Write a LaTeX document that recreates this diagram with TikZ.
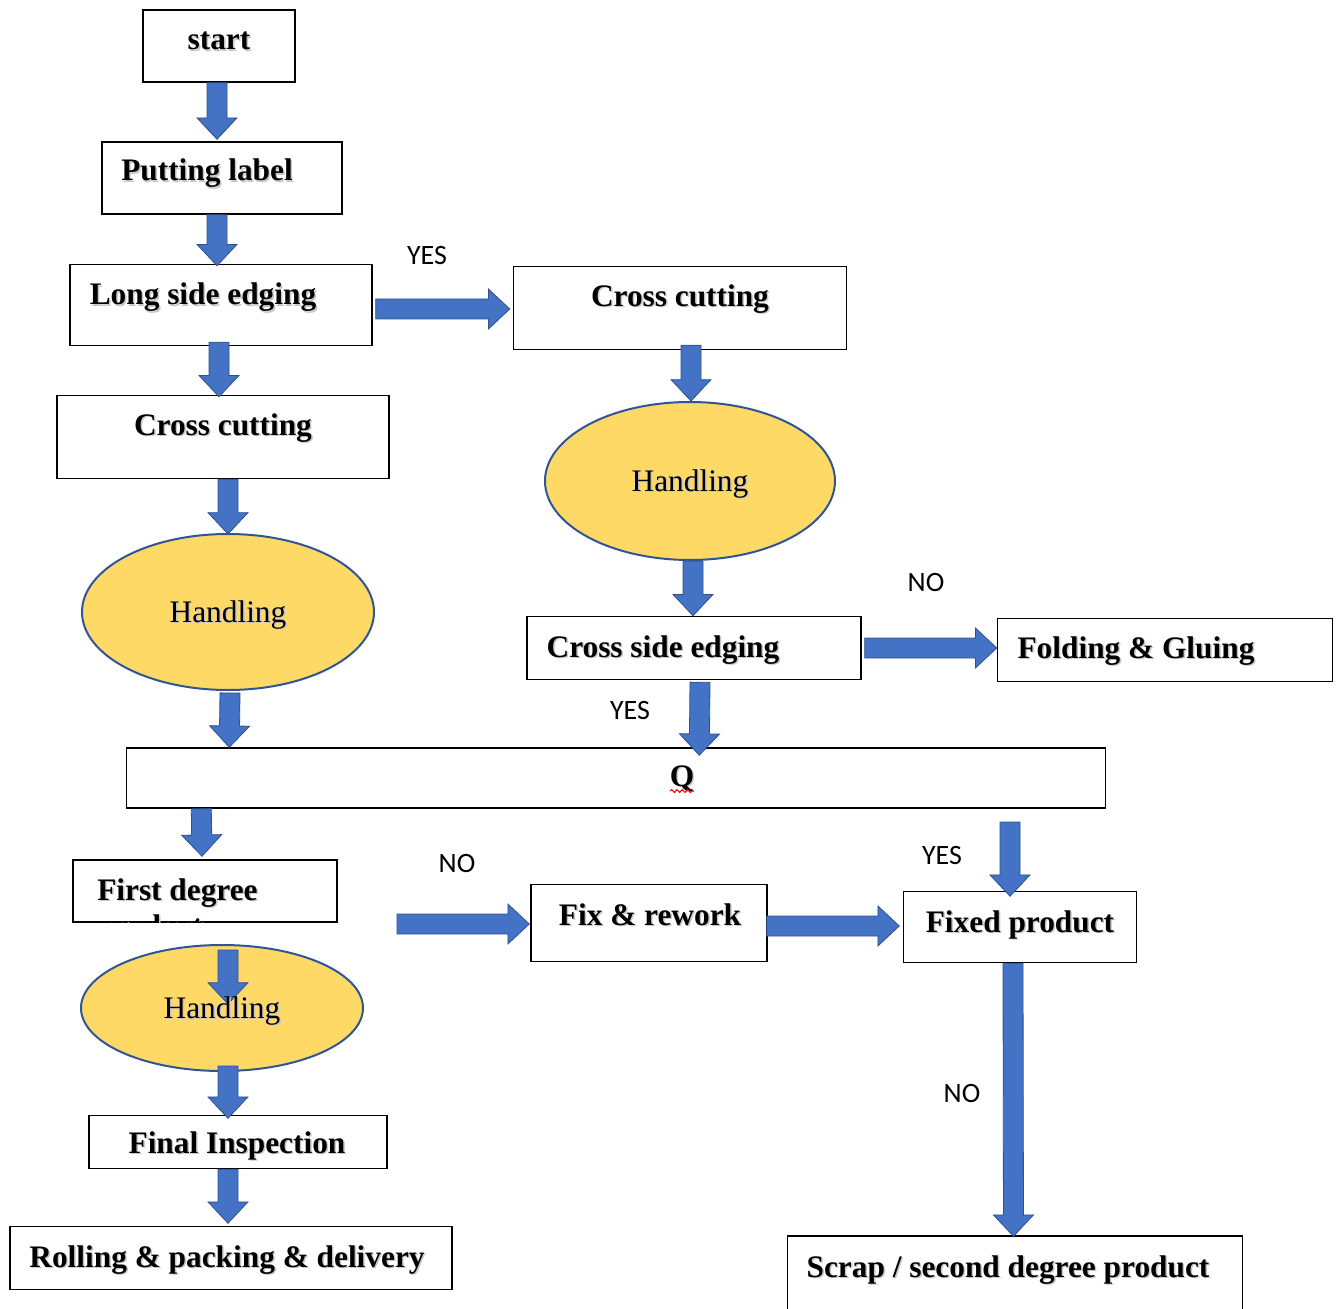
\documentclass[tikz,border=0pt]{standalone}
\usepackage{fontspec}
\setmainfont{Liberation Serif}
\newfontfamily\sansf{Carlito}
\usetikzlibrary{calc,shapes.geometric,decorations.pathmorphing}
\definecolor{abfill}{HTML}{4472C4}
\definecolor{abdraw}{HTML}{2F528F}
\definecolor{elfill}{HTML}{FFD966}
\definecolor{eldraw}{HTML}{2F5597}
\newcommand\pxu{0.75pt}
% block arrow from #1 to #2
\newcommand\barrow[2]{\path[blockarrow] let \p1=(#1), \p2=(#2),
  \n1={atan2(\y2-\y1,\x2-\x1)}, \n3={veclen(\x2-\x1,\y2-\y1)}, \n2={\n3-16pt} in
  [shift={(\p1)}, rotate=\n1] (0pt,-7.5pt) -- (\n2,-7.5pt) -- (\n2,-15pt) -- (\n3,0pt)
  -- (\n2,15pt) -- (\n2,7.5pt) -- (0pt,7.5pt) -- cycle;}
\newcommand\bx[5]{\node[box, minimum width=#4*\pxu, minimum height=#5*\pxu] (#1) at (#2,#3) {};}
\newcommand\tx[5]{\node[#5, shadowtxt] (#1s) at ($(#2,#3)+(1.5,1.5)$) {#4};
  \node[#5] (#1) at (#2,#3) {#4};}
\tikzset{
  box/.style={draw=black, line width=1.1pt, inner sep=0pt, rectangle},
  ell/.style={ellipse, draw=eldraw, fill=elfill, line width=1.5pt, inner sep=0pt},
  blockarrow/.style={fill=abfill, draw=abdraw, line width=0.6pt, line join=miter},
  txt/.style={font=\fontsize{23.5}{34}\selectfont\bfseries, inner sep=0pt, anchor=base},
  txtw/.style={font=\fontsize{23.5}{34}\selectfont\bfseries, inner sep=0pt, anchor=base west},
  htxt/.style={font=\fontsize{23.5}{34}\selectfont, inner sep=0pt, anchor=base},
  lbl/.style={font=\sansf\fontsize{21}{25}\selectfont, inner sep=0pt},
  shadowtxt/.style={text=black!22}
}
\begin{document}
\begin{tikzpicture}[x=0.75pt, y=-0.75pt]
\useasboundingbox (0,0) rectangle (1340,1309);
% boxes
\bx{start}{219}{46}{152}{72}
\bx{label}{222}{178}{240}{72}
\bx{long}{221}{305}{302}{81}
\bx{cca}{223}{437}{332}{83}
\bx{ccb}{680}{308}{333}{83}
\bx{cse}{694}{648}{334}{63}
\bx{fold}{1165}{650}{335}{63}
\bx{q}{616}{778}{979}{60}
\bx{first}{205}{891}{264}{62}
\bx{final}{238}{1142}{298}{53}
\bx{roll}{231}{1258}{442}{63}
\bx{fix}{649}{923}{236}{77}
\bx{fixed}{1020}{927}{233}{71}
\bx{scrap}{1015}{1280}{455}{88}
% ellipses
\node[ell, minimum width=292*\pxu, minimum height=156*\pxu] (ha) at (228,612) {};
\node[ell, minimum width=290*\pxu, minimum height=158*\pxu] (hb) at (690,481) {};
\node[ell, minimum width=282*\pxu, minimum height=126*\pxu] (hc) at (222,1008) {};
% free ends
\coordinate (fixin) at (397,924);
\coordinate (fixedin) at (1010,822);
\coordinate (hcin) at (228,950);
% arrows
\barrow{$(start.south)+(-2,0)$}{$(label.north)+(-5,-2)$}
\barrow{$(label.south)+(-5,0)$}{$(long.north)+(-4,2)$}
\barrow{$(long.east)+(3,4)$}{$(ccb.west)+(-3,1)$}
\barrow{$(long.south)+(-2,-4)$}{$(cca.north)+(-4,2)$}
\barrow{$(cca.south)+(5,0)$}{$(ha.north)+(0,1)$}
\barrow{$(ccb.south)+(11,-5)$}{$(hb.north)+(1,0)$}
\barrow{$(hb.south)+(3,0)$}{$(cse.north)+(-1,0)$}
\barrow{$(cse.east)+(3,0)$}{$(fold.west)+(0,-2)$}
\barrow{$(cse.south)+(6,2)$}{$(q.north west)+(573.5,8)$}
\barrow{$(ha.south)+(2,2)$}{$(q.north west)+(103.5,0)$}
\barrow{$(q.south west)+(75.5,0)$}{$(first.north)+(-3,-3)$}
\barrow{fixin}{$(fix.west)+(-1,1)$}
\barrow{$(fix.east)+(-1,3)$}{$(fixed.west)+(-3.5,-1)$}
\barrow{fixedin}{$(fixed.north)+(-10,5.5)$}
\barrow{$(fixed.south)+(-7,0)$}{$(scrap.north)+(-1.5,1)$}
\barrow{hcin}{$(hc.center)+(6,-4)$}
\barrow{$(hc.south)+(6,-6)$}{$(final.north)+(-10,3.5)$}
\barrow{$(final.south)+(-10,0)$}{$(roll.north)+(-3,-2.5)$}
% texts
\tx{tstart}{219}{50}{start}{txt}
\tx{tlabel}{207}{181}{Putting label}{txt}
\tx{tlong}{203}{305}{Long side edging}{txt}
\tx{tccb}{680}{306}{Cross cutting}{txt}
\tx{tcca}{223}{435}{Cross cutting}{txt}
\tx{thb}{690}{491}{Handling}{htxt}
\tx{tha}{228}{622}{Handling}{htxt}
\tx{tcse}{663}{657}{Cross side edging}{txt}
\tx{tfold}{1136}{658}{Folding \& Gluing}{txt}
\tx{tq}{682}{786}{Q}{txt}
\draw[red, line width=0.8pt, decorate, decoration={snake, amplitude=1.1pt, segment length=4pt}]
  ($(tq.base)+(-12,5)$) -- ($(tq.base)+(12,5)$);
\begin{scope}
  \clip (first.north west) rectangle (first.south east);
  \tx{tfirst}{97}{900}{First degree}{txtw}
  \tx{tfirstb}{97}{936}{product}{txtw}
\end{scope}
\tx{tfix}{650}{925}{Fix \& rework}{txt}
\tx{tfixed}{1020}{932}{Fixed product}{txt}
\tx{thc}{222}{1018}{Handling}{htxt}
\tx{tfinal}{237}{1153}{Final Inspection}{txt}
\tx{troll}{227}{1267}{Rolling \& packing \& delivery}{txt}
\tx{tscrap}{1008}{1277}{Scrap / second degree product}{txt}
% labels
\node[lbl] (l1) at (427,256) {YES};
\node[lbl] (l2) at (926,583) {NO};
\node[lbl] (l3) at (630,711) {YES};
\node[lbl] (l4) at (457,864) {NO};
\node[lbl] (l5) at (942,856) {YES};
\node[lbl] (l6) at (962,1094) {NO};
\end{tikzpicture}
\end{document}
